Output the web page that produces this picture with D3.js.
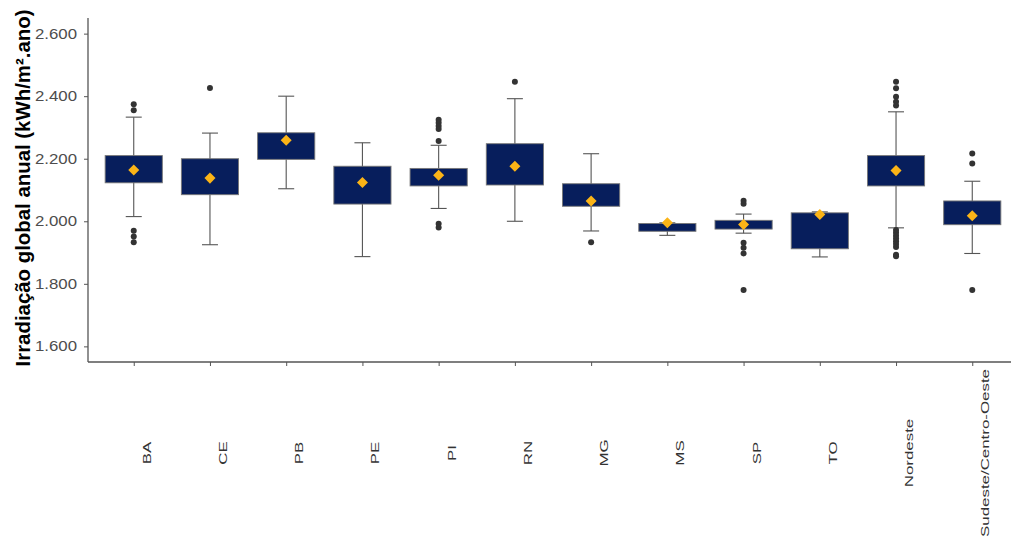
<!DOCTYPE html>
<html>
<head>
<meta charset="utf-8">
<script src="https://cdn.jsdelivr.net/npm/d3@7"></script>
<style>
  body { margin: 0; background: #fff; }
  text { font-family: "Liberation Sans", Arial, sans-serif; }
</style>
</head>
<body>
<script>
// data (kWh/m².ano)
var categories = ["BA", "CE", "PB", "PE", "PI", "RN", "MG", "MS", "SP", "TO", "Nordeste", "Sudeste/Centro-Oeste"];
var whiskLo = [2015, 1925, 2104, 1887, 2041, 2000, 1969, 1955, 1962, 1886, 1979, 1897];
var q1      = [2123, 2085, 2198, 2055, 2113, 2116, 2048, 1968, 1975, 1912, 2113, 1989];
var q3      = [2210, 2200, 2283, 2176, 2169, 2248, 2120, 1993, 2003, 2027, 2210, 2065];
var whiskHi = [2333, 2282, 2400, 2251, 2243, 2392, 2216, 1995, 2023, 2030, 2350, 2128];
var means   = [2164, 2138, 2259, 2124, 2147, 2176, 2065, 1995, 1990, 2022, 2162, 2018];
var outliers = [
  [2374, 2355, 1970, 1951, 1933],
  [2426],
  [],
  [],
  [2325, 2315, 2305, 2295, 2257, 1992, 1980],
  [2446],
  [1933],
  [],
  [2066, 2056, 1931, 1915, 1897, 1780],
  [],
  [2446, 2425, 2398, 2382, 2370, 1972, 1963, 1954, 1945, 1936, 1927, 1918, 1893, 1888],
  [2217, 2185, 1780]
];
var yTicks = [1600, 1800, 2000, 2200, 2400, 2600];

var width = 1011, height = 537;
var plot = { left: 88, right: 1018, top: 18, bottom: 362 };

var svg = d3.select("body").append("svg")
  .attr("width", width)
  .attr("height", height);

var x = d3.scalePoint()
  .domain(categories)
  .range([plot.left, plot.right])
  .padding(0.6);

var y = d3.scaleLinear()
  .domain([1550, 2650])
  .range([plot.bottom, plot.top]);

var step = x.step();
var boxW = step * 0.75;
var capW = 16;

var locale = d3.formatLocale({ decimal: ",", thousands: ".", grouping: [3], currency: ["R$", ""] });
var fmt = locale.format(",.0f");

var rows = categories.map(function (c, i) {
  return { cat: c, lo: whiskLo[i], q1: q1[i], q3: q3[i], hi: whiskHi[i], mean: means[i], out: outliers[i] };
});

// y axis
var yAxis = svg.append("g")
  .attr("transform", "translate(" + plot.left + ",0)")
  .call(d3.axisLeft(y).tickValues(yTicks).tickFormat(fmt).tickSize(4).tickSizeOuter(0));
yAxis.select(".domain").attr("stroke", "#555").attr("stroke-width", 1.3)
  .attr("d", "M0," + plot.top + "V" + plot.bottom);
yAxis.selectAll(".tick line").attr("stroke", "#555");
// labels are a bit wide in the original, stretch them
yAxis.selectAll(".tick text")
  .attr("x", 0)
  .attr("transform", "translate(-11,0) scale(1.2,1)")
  .attr("fill", "#4d4d4d")
  .style("font-size", "14px");

// x axis
var xAxis = svg.append("g")
  .attr("transform", "translate(0," + plot.bottom + ")")
  .call(d3.axisBottom(x).tickSize(4).tickSizeOuter(0).tickFormat(""));
xAxis.select(".domain").attr("stroke", "#555").attr("stroke-width", 1.3)
  .attr("d", "M" + plot.left + ",0H" + plot.right);
xAxis.selectAll(".tick line").attr("stroke", "#555");

// rotated, stretched category labels
svg.append("g").selectAll("text")
  .data(categories)
  .enter()
  .append("text")
  .attr("transform", function (d) {
    return "translate(" + (x(d) + 13) + ",453) rotate(-90) scale(1.47,1)";
  })
  .attr("text-anchor", "middle")
  .attr("dy", "0.35em")
  .attr("fill", "#333")
  .style("font-size", "11.5px")
  .text(function (d) { return d; });

// y title
svg.append("text")
  .attr("transform", "translate(30," + ((plot.top + plot.bottom) / 2 - 2) + ") rotate(-90)")
  .attr("text-anchor", "middle")
  .style("font-size", "20.4px")
  .style("font-weight", "bold")
  .attr("fill", "#000")
  .text("Irradiação global anual (kWh/m².ano)");

var g = svg.append("g");

// whiskers (error bars)
var wb = g.selectAll(".wb").data(rows).enter().append("g").attr("class", "wb");
wb.append("line")
  .attr("x1", function (d) { return x(d.cat); })
  .attr("x2", function (d) { return x(d.cat); })
  .attr("y1", function (d) { return y(d.lo); })
  .attr("y2", function (d) { return y(d.hi); })
  .attr("stroke", "#555").attr("stroke-width", 1.1);
wb.append("line")
  .attr("x1", function (d) { return x(d.cat) - capW / 2; })
  .attr("x2", function (d) { return x(d.cat) + capW / 2; })
  .attr("y1", function (d) { return y(d.hi); })
  .attr("y2", function (d) { return y(d.hi); })
  .attr("stroke", "#555").attr("stroke-width", 1.1);
wb.append("line")
  .attr("x1", function (d) { return x(d.cat) - capW / 2; })
  .attr("x2", function (d) { return x(d.cat) + capW / 2; })
  .attr("y1", function (d) { return y(d.lo); })
  .attr("y2", function (d) { return y(d.lo); })
  .attr("stroke", "#555").attr("stroke-width", 1.1);

// boxes
g.selectAll(".box").data(rows).enter().append("rect")
  .attr("class", "box")
  .attr("x", function (d) { return x(d.cat) - boxW / 2; })
  .attr("width", boxW)
  .attr("y", function (d) { return y(d.q3); })
  .attr("height", function (d) { return y(d.q1) - y(d.q3); })
  .attr("fill", "#071e5c")
  .attr("stroke", "#777")
  .attr("stroke-width", 0.9);

// outliers
rows.forEach(function (r) {
  g.selectAll(null).data(r.out).enter().append("circle")
    .attr("cx", x(r.cat))
    .attr("cy", function (v) { return y(v); })
    .attr("r", 3)
    .attr("fill", "#333");
});

// means
g.selectAll(".mean").data(rows).enter().append("rect")
  .attr("class", "mean")
  .attr("x", -3.9).attr("y", -3.9)
  .attr("width", 7.8).attr("height", 7.8)
  .attr("transform", function (d) {
    return "translate(" + x(d.cat) + "," + y(d.mean) + ") rotate(45)";
  })
  .attr("fill", "#fbb417");
</script>
</body>
</html>
